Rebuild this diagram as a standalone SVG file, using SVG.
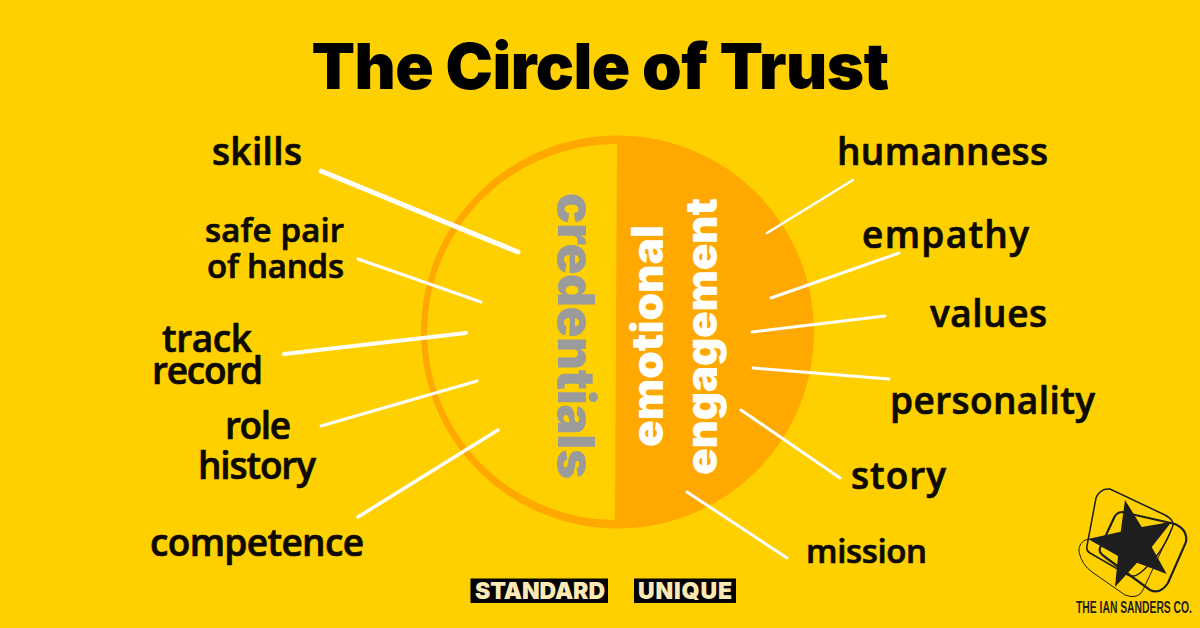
<svg xmlns="http://www.w3.org/2000/svg" width="1200" height="628" viewBox="0 0 1200 628">
<style>
.l{font-family:"Open Sans","Liberation Sans",sans-serif;font-weight:600;font-size:37px;fill:#0d0a00;stroke:#0d0a00;stroke-width:.7px;stroke-linejoin:round}
.s{font-size:33px}
.v{font-family:"Inter","Liberation Sans",sans-serif;font-weight:900;font-size:44px;text-anchor:middle}
.c{fill:none;stroke:#fff;stroke-linecap:round}
.t{font-family:"Inter","Liberation Sans",sans-serif;font-weight:900;font-size:23px;fill:#fbe9b5}
.o{fill:none;stroke:#1e1e1e}
</style>
<rect width="1200" height="628" fill="#ffd000"/>
<text x="600" y="89" text-anchor="middle" style="font-family:Inter,'Liberation Sans',sans-serif;font-weight:900;font-size:63.5px;fill:#000;letter-spacing:-.5px">The Circle of Trust</text>
<g id="circle">
<circle cx="617.500" cy="332" r="196.500" fill="#ffa800"/>
<path d="M617 144 A189 188 0 0 0 615 520Z" fill="#ffd000"/>
<text class="v" transform="translate(558 336) rotate(90)" fill="#9b9b9b" style="font-size:51px" textLength="286">credentials</text>
<text class="v" transform="translate(663 336) rotate(-90)" fill="#fff" textLength="222">emotional</text>
<text class="v" transform="translate(717 336.500) rotate(-90)" fill="#fff" textLength="277">engagement</text>
</g>
<g id="connectors">
<path class="c" stroke-width="5" d="M321 171L518 252"/>
<path class="c" stroke-width="3" d="M358 259L481 302"/>
<path class="c" stroke-width="4" d="M284 354L466 333"/>
<path class="c" stroke-width="3" d="M321 426L477 381"/>
<path class="c" stroke-width="3.500" d="M358 517L498 430"/>
<path class="c" stroke-width="2.500" d="M853 180L767 233"/>
<path class="c" stroke-width="3" d="M899 253L771 298"/>
<path class="c" stroke-width="3" d="M885 316L752 332"/>
<path class="c" stroke-width="3" d="M889 379L753 368"/>
<path class="c" stroke-width="3" d="M840 478L741 410"/>
<path class="c" stroke-width="3" d="M787 558L687 492"/>
</g>
<g id="skills"><text class="l" x="212" y="165" textLength="90">skills</text></g>
<g id="safe-pair"><text class="l s" x="205" y="242" textLength="139">safe pair</text><text class="l s" x="207" y="278" textLength="137">of hands</text></g>
<g id="track-record"><text class="l" x="162" y="352" textLength="90">track</text><text class="l" x="152" y="384" textLength="111">record</text></g>
<g id="role-history"><text class="l" x="225" y="439" textLength="66">role</text><text class="l" x="198" y="479" textLength="118">history</text></g>
<g id="competence"><text class="l" x="150" y="556" textLength="214">competence</text></g>
<g id="humanness"><text class="l" x="837" y="165" textLength="211">humanness</text></g>
<g id="empathy"><text class="l" x="862" y="248" textLength="167">empathy</text></g>
<g id="values"><text class="l" x="930" y="327" textLength="117">values</text></g>
<g id="personality"><text class="l" x="890" y="414" textLength="205">personality</text></g>
<g id="story"><text class="l" x="851" y="489" textLength="95">story</text></g>
<g id="mission"><text class="l s" x="806" y="563" textLength="121">mission</text></g>
<g id="standard"><rect x="470.500" y="578.500" width="137.500" height="24.500" fill="#000"/><text class="t" x="475" y="599" textLength="130">STANDARD</text></g>
<g id="unique"><rect x="634" y="578.500" width="102" height="24.500" fill="#000"/><text class="t" x="638" y="599" textLength="94">UNIQUE</text></g>
<g id="logo">
<path class="o" stroke-width="1.500" d="M1096 498Q1100 488 1110 489L1165 515Q1176 521 1172 528Q1162 555 1140 573Q1134 578 1128 575L1090 553Q1086 551 1087 546Z"/>
<path class="o" stroke-width="2.200" d="M1122 512L1175 524Q1188 530 1186 542L1168 583Q1160 595 1150 590L1105 557Q1098 552 1100 548L1113 520Q1116 512 1122 512Z"/>
<path class="o" stroke-width="1" d="M1088 539Q1078 542 1079 552Q1082 565 1092 572L1125 595Q1138 600 1143 590L1172 528"/>
<path d="M1125 500L1141.700 527L1171.700 521.700L1151.700 547L1166.700 574L1137 562.700L1115 587L1118 556L1088 539L1120.700 531.700Z" fill="#1e1e1e"/>
<text x="1076" y="613" textLength="116" lengthAdjust="spacingAndGlyphs" style="font-family:'Liberation Sans',sans-serif;font-weight:700;font-size:16px;fill:#1e1e1e">THE IAN SANDERS CO.</text>
</g>
</svg>
